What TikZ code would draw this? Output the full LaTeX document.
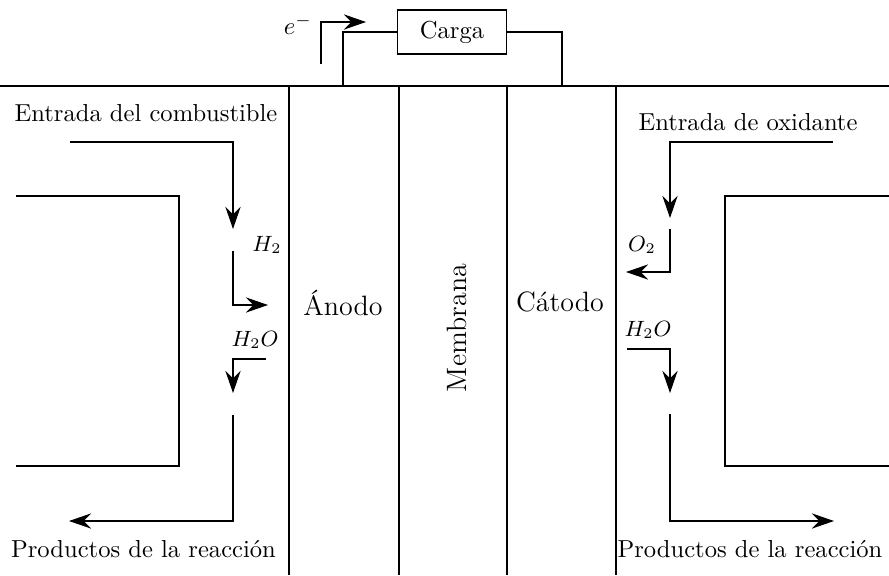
\documentclass[tikz,border=0pt]{standalone}
\usepackage{fontspec}
\usetikzlibrary{arrows.meta}
\begin{document}
\begin{tikzpicture}[x=0.407pt,y=-0.407pt,
  wire/.style={line width=0.45pt},
  flow/.style={line width=0.45pt,-{Stealth[length=9pt,width=6.2pt,inset=3pt]}},
  part/.style={font=\fontsize{11.4}{14}\selectfont, inner sep=0pt},
  species/.style={font=\small, inner sep=0pt},
  caption/.style={inner sep=0pt, anchor=base}]
\useasboundingbox (0,0) rectangle (889,575);

% cell layers: anode, membrane, cathode
\coordinate (topL) at (0,86);
\coordinate (topR) at (889,86);
\coordinate (aT) at (289,86);  \coordinate (aB) at (289,575);
\coordinate (mT) at (399,86);  \coordinate (mB) at (399,575);
\coordinate (cT) at (507,86);  \coordinate (cB) at (507,575);
\coordinate (kT) at (616,86);  \coordinate (kB) at (616,575);
\draw[wire] (topL) -- (topR);
\draw[wire] (aT) -- (aB);
\draw[wire] (mT) -- (mB);
\draw[wire] (cT) -- (cB);
\draw[wire] (kT) -- (kB);

\node[part] (anode) at (343,303) {Ánodo};
\node[part, rotate=90] (membrane) at (457,328) {Membrana};
\node[part] (cathode) at (560,302) {Cátodo};

% external circuit
\node[draw, line width=0.45pt, minimum width=44.4pt, minimum height=17.9pt, inner sep=0pt] (load) at (452,32) {Carga};
\coordinate (wireL) at (343,86);
\coordinate (wireR) at (562,86);
\draw[wire] (wireL) |- (load.west);
\draw[wire] (load.east) -| (wireR);
\coordinate (eS) at (321,64);
\coordinate (eT) at (366,22);
\draw[flow] (eS) |- (eT);
\node (elabel) at (298,25) {$e^-$};

% anode side: fuel channel
\coordinate (lb1) at (16,196);
\coordinate (lb2) at (179,196);
\coordinate (lb3) at (179,466);
\coordinate (lb4) at (16,466);
\draw[wire] (lb1) -- (lb2) -- (lb3) -- (lb4);

\node[caption] (fuelTxt) at (146,121) {Entrada del combustible};
\coordinate (fuelIn) at (70,142);
\coordinate (h2Tip) at (233,229);
\draw[flow] (fuelIn) -| (h2Tip);
\node[species] (h2) at (267,245) {$H_2$};
\coordinate (h2Start) at (233,251);
\coordinate (anodeTip) at (268,305);
\draw[flow] (h2Start) |- (anodeTip);
\node[species] (waterLTxt) at (255,340) {$H_2O$};
\coordinate (waterL) at (266,359);
\coordinate (waterLTip) at (233,393);
\draw[flow] (waterL) -| (waterLTip);
\coordinate (prodLStart) at (233,415);
\coordinate (prodLTip) at (69,521);
\draw[flow] (prodLStart) |- (prodLTip);
\node[caption] (prodLTxt) at (143.5,557) {Productos de la reacción};

% cathode side: oxidant channel
\coordinate (rb1) at (889,196);
\coordinate (rb2) at (725,196);
\coordinate (rb3) at (725,466);
\coordinate (rb4) at (889,466);
\draw[wire] (rb1) -- (rb2) -- (rb3) -- (rb4);

\node[caption] (oxTxt) at (748,130) {Entrada de oxidante};
\coordinate (oxIn) at (833,142);
\coordinate (o2Tip) at (670,218);
\draw[flow] (oxIn) -| (o2Tip);
\node[species] (o2) at (642,245) {$O_2$};
\coordinate (o2Start) at (670,229);
\coordinate (cathodeTip) at (626,272);
\draw[flow] (o2Start) |- (cathodeTip);
\node[species] (waterRTxt) at (648,330) {$H_2O$};
\coordinate (waterR) at (627,349);
\coordinate (waterRTip) at (670,393);
\draw[flow] (waterR) -| (waterRTip);
\coordinate (prodRStart) at (670,414);
\coordinate (prodRTip) at (834,521);
\draw[flow] (prodRStart) |- (prodRTip);
\node[caption] (prodRTxt) at (750,557) {Productos de la reacción};
\end{tikzpicture}
\end{document}
